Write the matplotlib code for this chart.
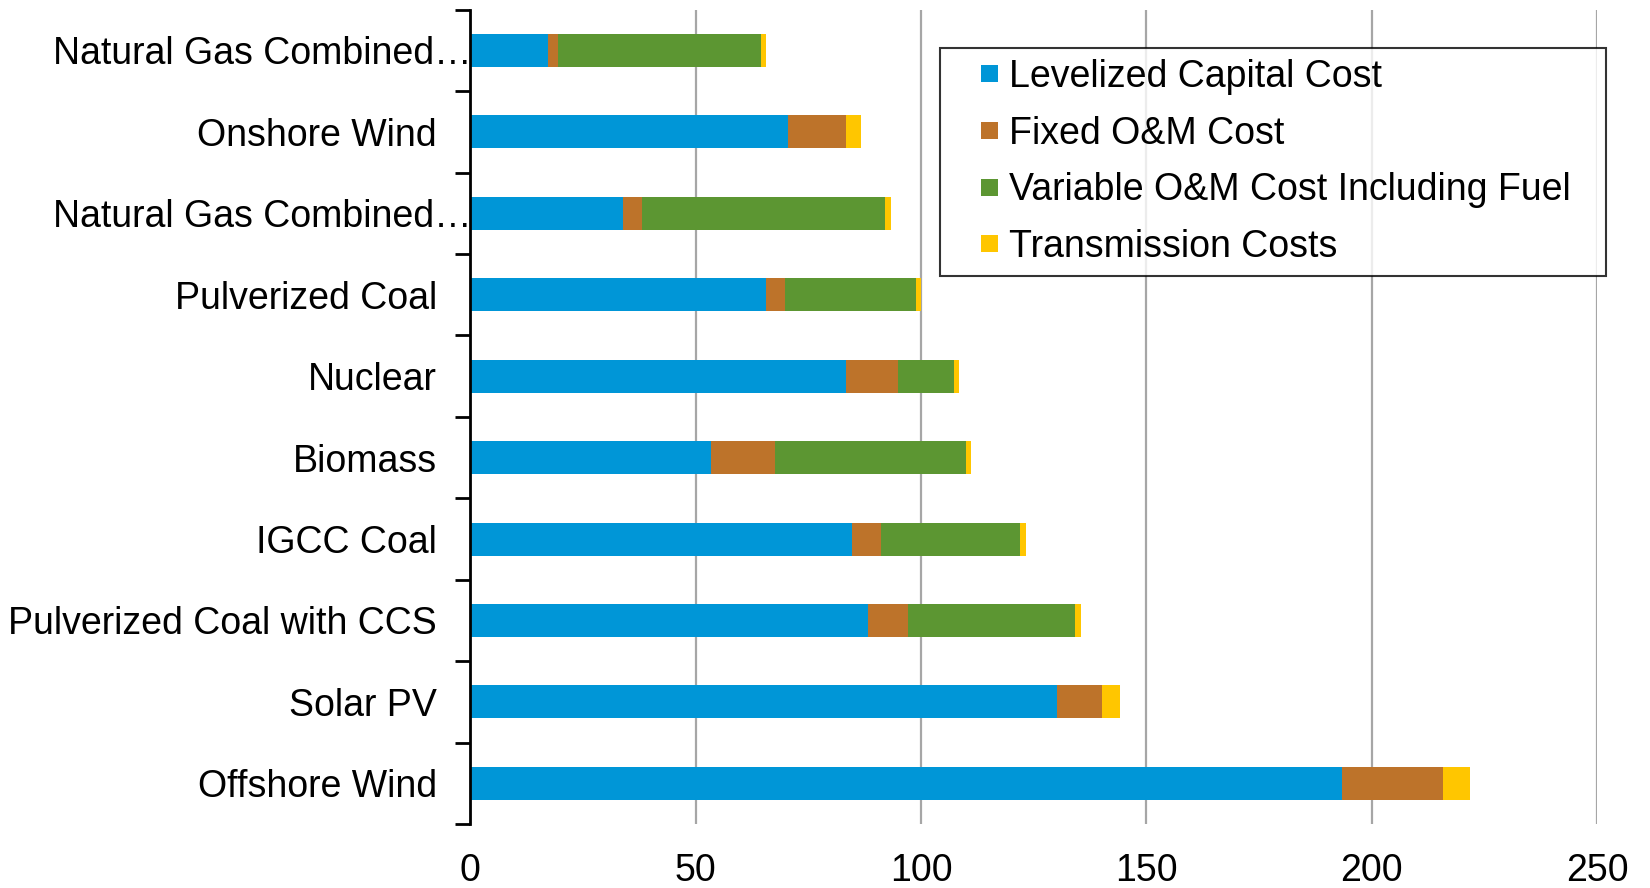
import numpy as np
import matplotlib.pyplot as plt
import matplotlib.transforms as mtransforms
from matplotlib.patches import Rectangle
from matplotlib.legend_handler import HandlerPatch

plt.rcParams['font.family'] = ['Liberation Sans', 'DejaVu Sans']

technologies = ['Natural Gas Combined…', 'Onshore Wind', 'Natural Gas Combined…',
                'Pulverized Coal', 'Nuclear', 'Biomass', 'IGCC Coal',
                'Pulverized Coal with CCS', 'Solar PV', 'Offshore Wind']
capital = [17.3, 70.4, 33.9, 65.7, 83.4, 53.4, 84.6, 88.3, 130.2, 193.3]
fixed_om = [2.1, 13.0, 4.1, 4.1, 11.6, 14.3, 6.6, 8.9, 9.9, 22.5]
variable_om = [45.0, 0, 54.1, 29.1, 12.4, 42.2, 30.8, 37.0, 0, 0]
transmission = [1.3, 3.2, 1.2, 1.2, 1.0, 1.2, 1.2, 1.3, 4.1, 5.9]

series = [('Levelized Capital Cost', capital, '#0096d7'),
          ('Fixed O&M Cost', fixed_om, '#bd732a'),
          ('Variable O&M Cost Including Fuel', variable_om, '#5c9632'),
          ('Transmission Costs', transmission, '#ffc600')]

fig = plt.figure(figsize=(16.5, 8.88), dpi=100)
ax = fig.add_axes([0.285, 0.072, 0.683, 0.917])

y = np.arange(len(technologies))
left = np.zeros(len(technologies))
for name, vals, col in series:
    vals = np.array(vals)
    ax.barh(y, vals, left=left, height=0.405, color=col, label=name, zorder=3)
    left += vals

ax.set_xlim(0, 250)
ax.set_ylim(len(technologies) - 0.5, -0.5)
ax.set_xticks([0, 50, 100, 150, 200, 250])
ax.tick_params(axis='x', length=0, labelsize=27, pad=21)
ax.grid(axis='x', color='#a6a6a6', linewidth=1.6, zorder=0)

ax.set_yticks(y)
ax.set_yticklabels(technologies)
ax.tick_params(axis='y', which='major', length=0, labelsize=27, pad=24)
ax.set_yticks(np.arange(len(technologies) + 1) - 0.5, minor=True)
ax.tick_params(axis='y', which='minor', length=11, width=2, color='black')

for s in ['top', 'right', 'bottom']:
    ax.spines[s].set_visible(False)
ax.spines['left'].set_linewidth(2)
ax.spines['left'].set_zorder(4)

# truncated labels sit closer to the axis
for lab in ax.get_yticklabels():
    if lab.get_text().endswith('…'):
        lab.set_transform(lab.get_transform() +
                          mtransforms.ScaledTranslation(25 / 72, 0, fig.dpi_scale_trans))


def square_patch(legend, orig_handle, xdescent, ydescent, width, height, fontsize):
    s = 0.45 * fontsize
    return Rectangle((-xdescent + width - s, -ydescent + (height - s) / 2), s, s)


handles = [Rectangle((0, 0), 1, 1, facecolor=col, edgecolor='none') for _, _, col in series]
labels = [name for name, _, _ in series]
leg = ax.legend(handles, labels, loc='upper left',
                bbox_to_anchor=(940 / 1650, 1 - 48 / 888 - 0.01, 666 / 1650, 0.01),
                bbox_transform=fig.transFigure, mode='expand', fontsize=27,
                frameon=True, fancybox=False, edgecolor='black',
                handlelength=1.25, handleheight=0.45, handletextpad=0.3,
                labelspacing=0.55, borderpad=0.3, borderaxespad=0,
                handler_map={Rectangle: HandlerPatch(patch_func=square_patch)})
leg.get_frame().set_linewidth(1.5)

fig.savefig('out.png', dpi=100, facecolor='white')
